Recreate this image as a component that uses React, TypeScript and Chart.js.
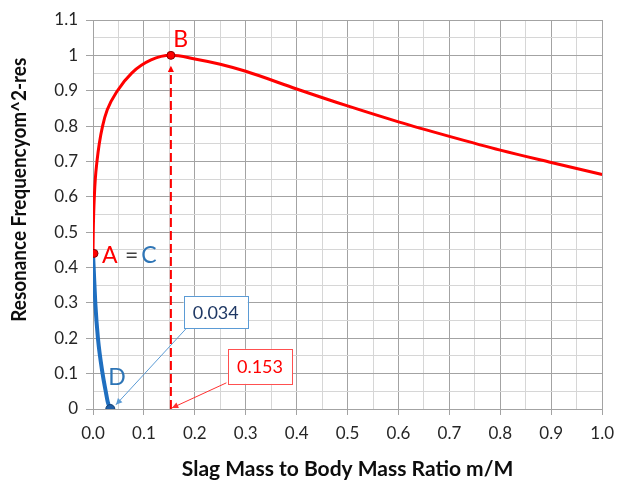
import React, { useEffect, useRef } from 'react';
import { Chart, registerables } from 'chart.js';

Chart.register(...registerables);

// ---- data ----
const redX = [0, 0.0005, 0.0013, 0.0026, 0.0045, 0.0078, 0.0123, 0.0188, 0.028, 0.048, 0.076, 0.114, 0.153, 0.2, 0.25, 0.3, 0.4, 0.5, 0.6, 0.7, 0.8, 0.9, 1.0];
const redY = [0.44, 0.5, 0.55, 0.6, 0.65, 0.7, 0.75, 0.8, 0.846, 0.9, 0.95, 0.987, 1.0, 0.99, 0.975, 0.955, 0.905, 0.857, 0.812, 0.771, 0.732, 0.697, 0.663];
const blueX = [0, 0.0013, 0.0045, 0.0097, 0.0188, 0.025, 0.029, 0.034];
const blueY = [0.44, 0.4, 0.3, 0.2, 0.1, 0.05, 0.02, 0];
const pointA = { x: 0.002, y: 0.44 };
const pointB = { x: 0.153, y: 1.0 };
const pointD = { x: 0.034, y: 0 };
const dashX = [0.153, 0.153];
const dashY = [0, 0.965];

const xTitle = 'Slag Mass to Body Mass Ratio m/M';
const yTitle = 'Resonance Frequencyom^2-res';

const letterLabels = [
  { text: 'A', x: 0.033, y: 0.433, color: '#ff0000' },
  { text: '=', x: 0.076, y: 0.433, color: '#404040' },
  { text: 'C', x: 0.11, y: 0.433, color: '#2e75b6' },
  { text: 'B', x: 0.172, y: 1.044, color: '#ff0000' },
  { text: 'D', x: 0.047, y: 0.088, color: '#2e75b6' },
];

const callouts = [
  { text: '0.034', x0: 0.178, x1: 0.304, y0: 0.32, y1: 0.229, fromX: 0.184, fromY: 0.229, tipX: 0.045, tipY: 0.012, border: '#5b9bd5', line: '#5b9bd5', textColor: '#1f3864' },
  { text: '0.153', x0: 0.265, x1: 0.391, y0: 0.17, y1: 0.071, fromX: 0.262, fromY: 0.074, tipX: 0.155, tipY: 0.003, border: '#ff5050', line: '#ff3030', textColor: '#ff0000' },
];

const MAJOR = '#a3a3a3';
const MINOR = '#d6d6d6';
const FONT = 'Lato, "Open Sans", sans-serif';
const TITLE_COLOR = '#0d0d0d';

const isMajor = (v: number) => Math.abs(Math.round(v * 10) - v * 10) < 1e-6;

function arrowHead(ctx: CanvasRenderingContext2D, fx: number, fy: number, tx: number, ty: number, size: number, color: string) {
  const ang = Math.atan2(ty - fy, tx - fx);
  ctx.beginPath();
  ctx.moveTo(tx, ty);
  ctx.lineTo(tx - size * Math.cos(ang - 0.45), ty - size * Math.sin(ang - 0.45));
  ctx.lineTo(tx - size * Math.cos(ang + 0.45), ty - size * Math.sin(ang + 0.45));
  ctx.closePath();
  ctx.fillStyle = color;
  ctx.fill();
}

const annotPlugin = {
  id: 'annot',
  afterDatasetsDraw(chart: any) {
    const { ctx } = chart;
    const xs = chart.scales.x;
    const ys = chart.scales.y;
    ctx.save();
    // arrowhead on dashed line
    const dx = xs.getPixelForValue(dashX[1]);
    const dy = ys.getPixelForValue(dashY[1]);
    arrowHead(ctx, dx, dy + 10, dx, dy - 2, 7, '#ff0000');

    // callouts
    for (const c of callouts) {
      const fx = xs.getPixelForValue(c.fromX);
      const fy = ys.getPixelForValue(c.fromY);
      const tx = xs.getPixelForValue(c.tipX);
      const ty = ys.getPixelForValue(c.tipY);
      ctx.strokeStyle = c.line;
      ctx.lineWidth = 1;
      ctx.beginPath();
      ctx.moveTo(fx, fy);
      ctx.lineTo(tx, ty);
      ctx.stroke();
      arrowHead(ctx, fx, fy, tx, ty, 7, c.line);
      const bx0 = xs.getPixelForValue(c.x0);
      const bx1 = xs.getPixelForValue(c.x1);
      const by0 = ys.getPixelForValue(c.y0);
      const by1 = ys.getPixelForValue(c.y1);
      ctx.fillStyle = '#ffffff';
      ctx.fillRect(bx0, by0, bx1 - bx0, by1 - by0);
      ctx.strokeStyle = c.border;
      ctx.strokeRect(Math.round(bx0) + 0.5, Math.round(by0) + 0.5, Math.round(bx1 - bx0), Math.round(by1 - by0));
      ctx.fillStyle = c.textColor;
      ctx.font = `18px ${FONT}`;
      ctx.textAlign = 'center';
      ctx.textBaseline = 'middle';
      ctx.fillText(c.text, (bx0 + bx1) / 2, (by0 + by1) / 2 + 1);
    }

    // letters
    ctx.font = `23px ${FONT}`;
    ctx.textAlign = 'center';
    ctx.textBaseline = 'middle';
    for (const l of letterLabels) {
      ctx.fillStyle = l.color;
      ctx.fillText(l.text, xs.getPixelForValue(l.x), ys.getPixelForValue(l.y));
    }
    ctx.restore();
  },
  afterDraw(chart: any) {
    // y-axis title (narrow bold, as in the reference)
    const { ctx } = chart;
    const ys = chart.scales.y;
    const cy = ys.getPixelForValue(0.62);
    ctx.save();
    ctx.translate(19, cy);
    ctx.rotate(-Math.PI / 2);
    ctx.font = `bold 21px ${FONT}`;
    ctx.fillStyle = TITLE_COLOR;
    ctx.textAlign = 'center';
    ctx.textBaseline = 'middle';
    ctx.fillText(yTitle, 0, 0, 264);
    ctx.restore();
  },
};

export default function App() {
  const ref = useRef<HTMLCanvasElement>(null);
  useEffect(() => {
    if (!ref.current) return;
    const chart = new Chart(ref.current, {
      type: 'scatter',
      data: {
        datasets: [
          {
            label: 'A',
            data: [pointA],
            pointRadius: 4,
            pointBackgroundColor: '#ff0000',
            pointBorderColor: '#8b0000',
            pointBorderWidth: 1,
            showLine: false,
            order: 0,
          },
          {
            label: 'B',
            data: [pointB],
            pointRadius: 4,
            pointBackgroundColor: '#ff0000',
            pointBorderColor: '#8b0000',
            pointBorderWidth: 1,
            showLine: false,
            order: 0,
          },
          {
            label: 'D',
            data: [pointD],
            pointRadius: 4.5,
            pointBackgroundColor: '#1f5fa8',
            pointBorderColor: '#123e70',
            pointBorderWidth: 1,
            showLine: false,
            order: 0,
          },
          {
            label: 'red',
            data: redX.map((x, i) => ({ x, y: redY[i] })),
            showLine: true,
            borderColor: '#ff0000',
            borderWidth: 3,
            pointRadius: 0,
            cubicInterpolationMode: 'monotone',
            order: 1,
          },
          {
            label: 'blue',
            data: blueX.map((x, i) => ({ x, y: blueY[i] })),
            showLine: true,
            borderColor: '#1f6fc0',
            borderWidth: 4,
            pointRadius: 0,
            cubicInterpolationMode: 'monotone',
            order: 1,
          },
          {
            label: 'dash',
            data: dashX.map((x, i) => ({ x, y: dashY[i] })),
            showLine: true,
            borderColor: '#ff0000',
            borderWidth: 2,
            borderDash: [9, 4],
            pointRadius: 0,
            order: 2,
          },
        ],
      },
      options: {
        responsive: false,
        animation: false,
        devicePixelRatio: 1,
        layout: { padding: { left: 0, right: 13, top: 20, bottom: 0 } },
        plugins: { legend: { display: false }, tooltip: { enabled: false } },
        scales: {
          x: {
            type: 'linear',
            min: 0,
            max: 1,
            afterFit: (s: any) => { s.height = 73; },
            ticks: {
              stepSize: 0.05,
              autoSkip: false,
              maxRotation: 0,
              minRotation: 0,
              padding: 8,
              color: '#262626',
              font: { family: FONT, size: 17 },
              callback: (v: any) => (isMajor(Number(v)) ? Number(v).toFixed(1) : ''),
            },
            grid: {
              color: (c: any) => (c.tick && isMajor(c.tick.value) ? MAJOR : MINOR),
              tickColor: (c: any) => (c.tick && isMajor(c.tick.value) ? MAJOR : 'rgba(0,0,0,0)'),
              tickLength: 6,
              lineWidth: 1,
            },
            border: { display: true, color: MAJOR, width: 1 },
            title: {
              display: true,
              text: xTitle,
              color: TITLE_COLOR,
              font: { family: FONT, size: 21, weight: 'bold' },
              padding: { top: 0, bottom: 0 },
            },
          },
          y: {
            type: 'linear',
            min: 0,
            max: 1.1,
            afterFit: (s: any) => { s.width = 93; },
            ticks: {
              stepSize: 0.05,
              autoSkip: false,
              padding: 8,
              color: '#262626',
              font: { family: FONT, size: 17 },
              callback: (v: any) => (isMajor(Number(v)) ? String(Number(Number(v).toFixed(2))) : ''),
            },
            grid: {
              color: (c: any) => (c.tick && isMajor(c.tick.value) ? MAJOR : MINOR),
              tickColor: (c: any) => (c.tick && isMajor(c.tick.value) ? MAJOR : 'rgba(0,0,0,0)'),
              tickLength: 7,
              lineWidth: 1,
            },
            border: { display: true, color: MAJOR, width: 1 },
            title: { display: false, text: yTitle },
          },
        },
      },
      plugins: [annotPlugin],
    } as any);
    return () => chart.destroy();
  }, []);

  return (
    <div style={{ position: 'absolute', left: 0, top: 0, width: 622, height: 482, background: '#ffffff' }}>
      <canvas ref={ref} width={622} height={482} style={{ display: 'block' }} />
    </div>
  );
}
